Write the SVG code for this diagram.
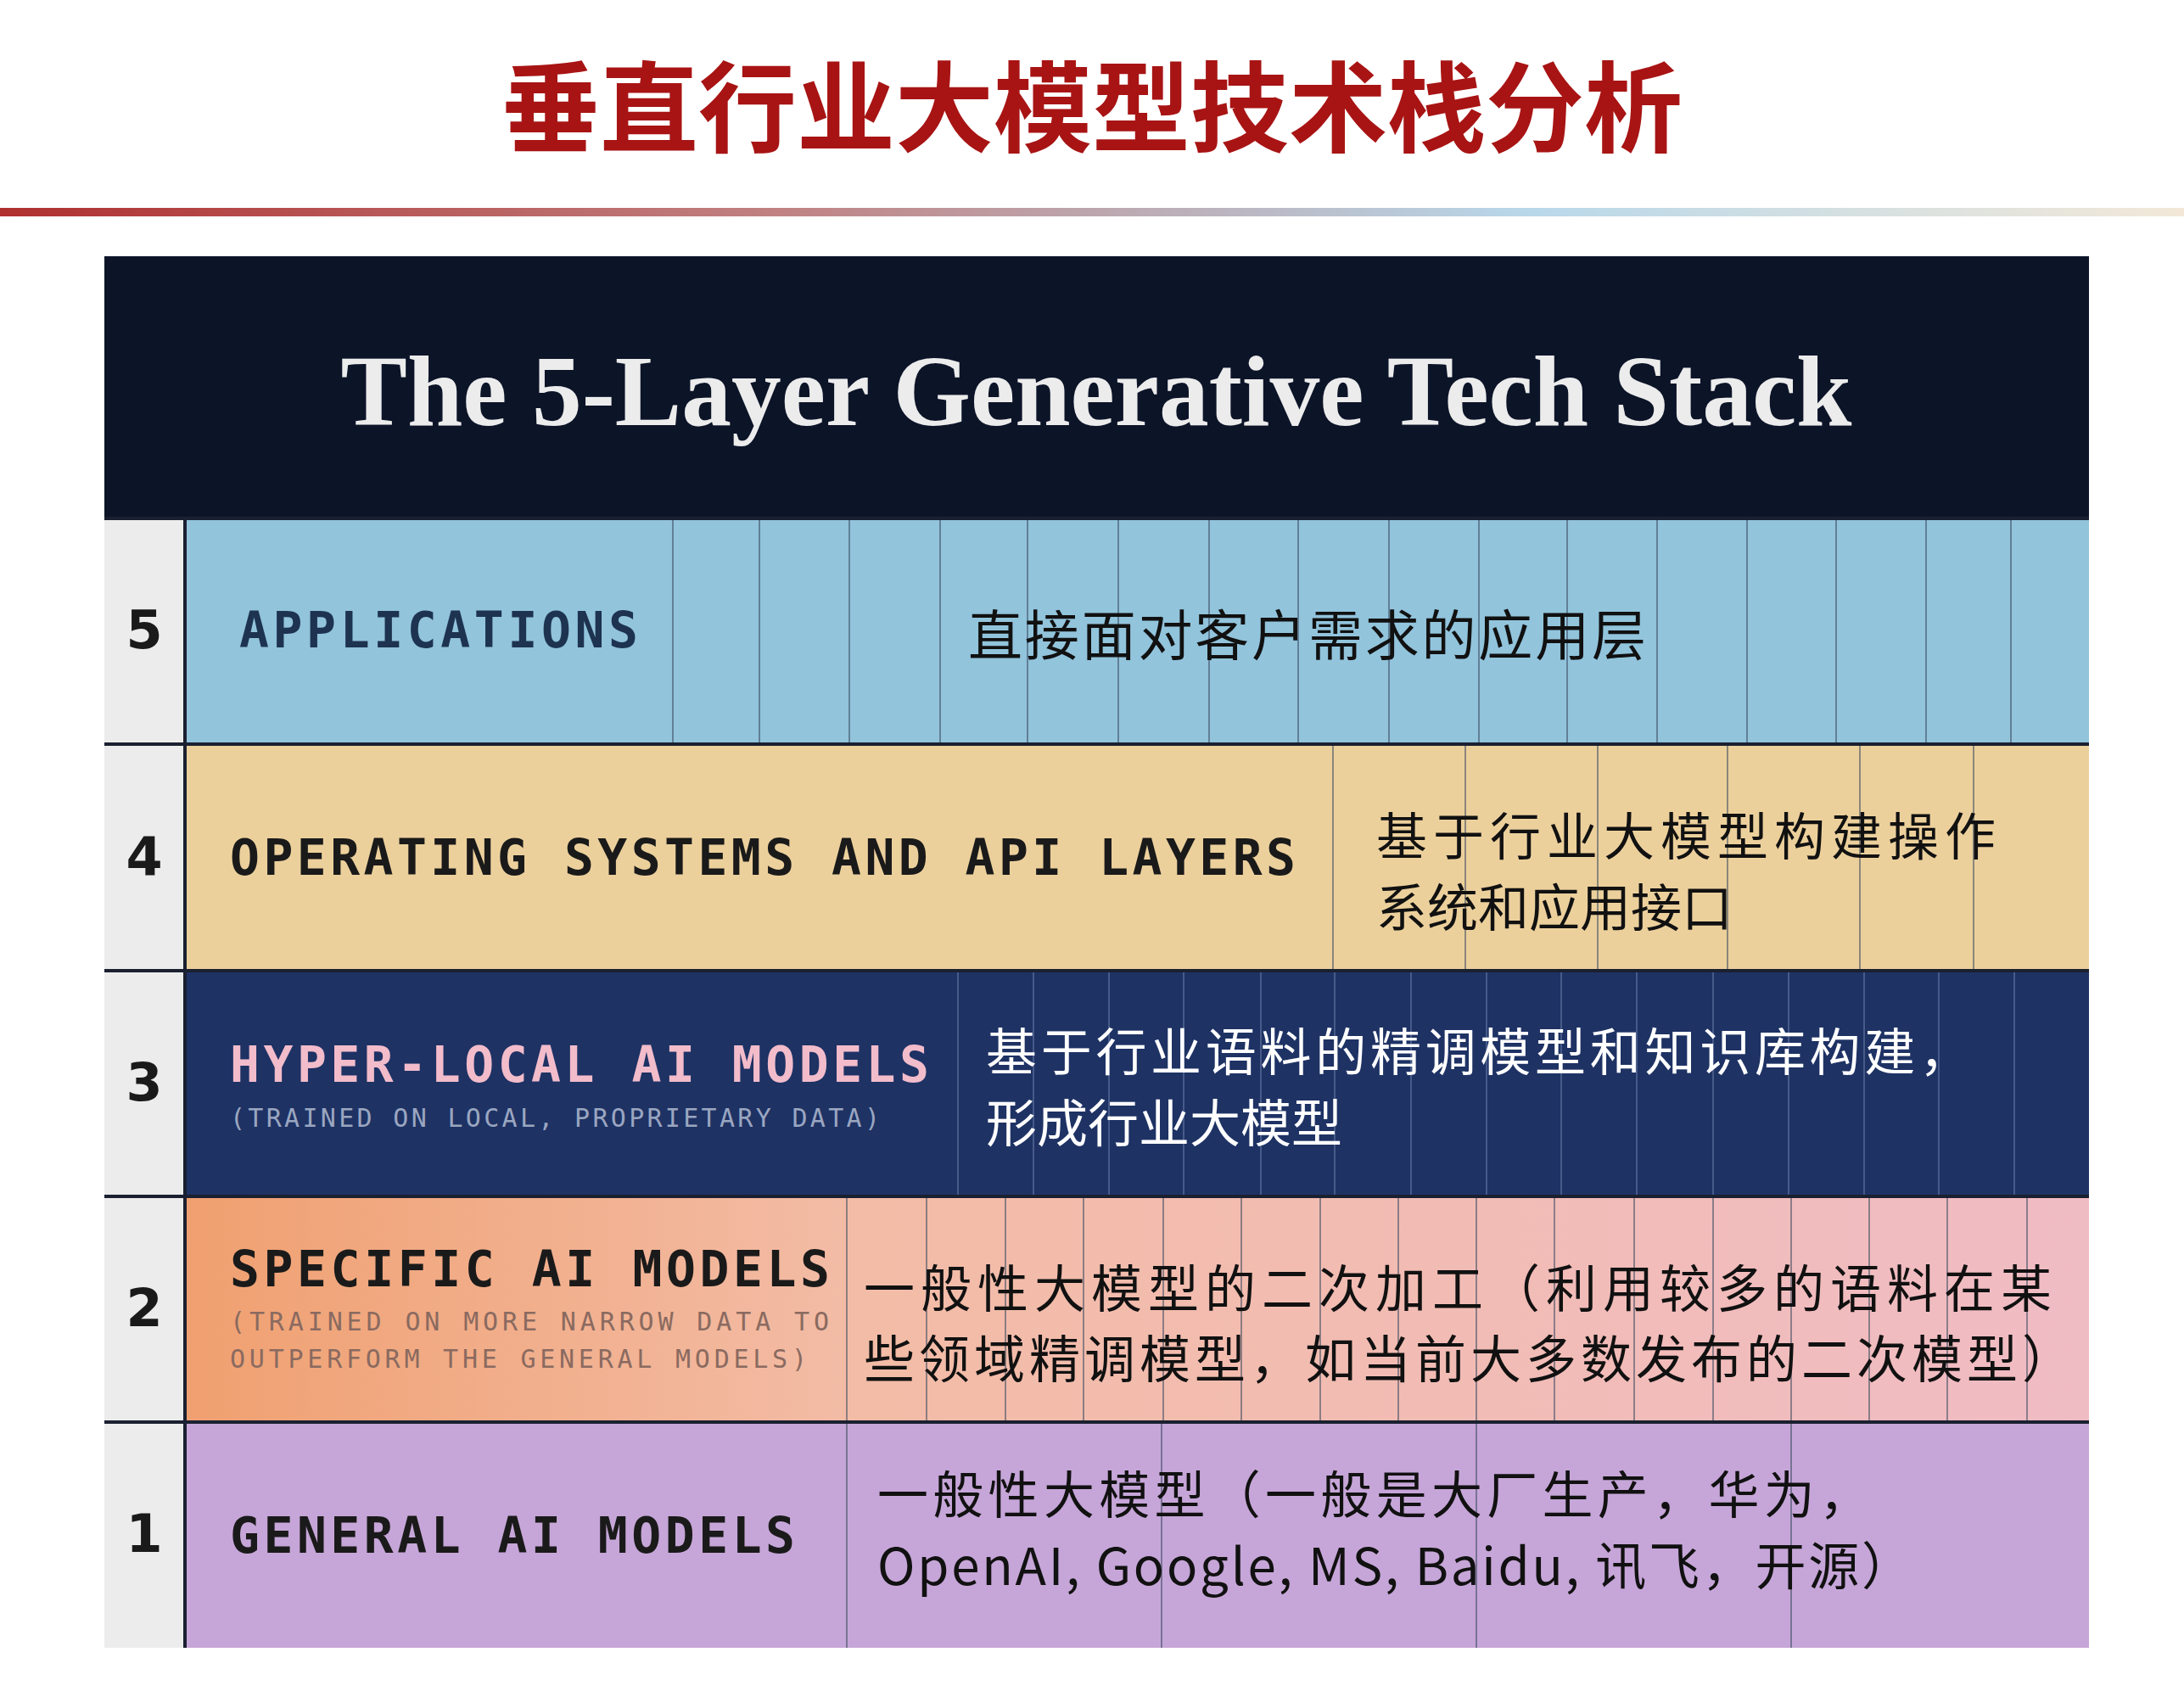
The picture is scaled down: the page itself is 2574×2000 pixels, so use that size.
<svg xmlns="http://www.w3.org/2000/svg" width="2574" height="2000" viewBox="0 0 2574 2000">
<defs>
<linearGradient id="rule" x1="0" x2="1" y1="0" y2="0"><stop offset="0" stop-color="#b03030"/><stop offset="0.35" stop-color="#c08080"/><stop offset="0.7" stop-color="#b8d8ea"/><stop offset="1" stop-color="#f3e8d8"/></linearGradient>
<linearGradient id="r2" x1="0" x2="1" y1="0" y2="0"><stop offset="0" stop-color="#f0a070"/><stop offset="0.35" stop-color="#f3bca6"/><stop offset="1" stop-color="#f0bcc4"/></linearGradient>
<style>
.num{font-family:"DejaVu Sans",sans-serif;font-weight:bold;font-size:62px;fill:#1a1a1a;text-anchor:middle}
.lab{font-family:"DejaVu Sans Mono","Liberation Mono",monospace;font-weight:bold;font-size:58px}
.sub{font-family:"DejaVu Sans Mono","Liberation Mono",monospace;font-size:30px}
.cn{font-family:"Noto Sans CJK SC",sans-serif;font-size:60px;fill:#111}
.vl{stroke:#3a4a60;stroke-width:2;opacity:.55}
.sep{stroke:#1a2030;stroke-width:4}
</style>
</defs>
<rect width="2574" height="2000" fill="#fff"/>
<text x="1287" y="170" text-anchor="middle" font-family="Noto Sans CJK SC,sans-serif" font-weight="bold" font-size="116" fill="#a81414">垂直行业大模型技术栈分析</text>
<rect x="0" y="245" width="2574" height="10" fill="url(#rule)"/>
<g id="header">
<rect x="123" y="302" width="2339" height="309" fill="#0c1428"/>
<text x="1292" y="501" text-anchor="middle" font-family="Liberation Serif,serif" font-weight="bold" font-size="118" fill="#ececec" textLength="1781" lengthAdjust="spacingAndGlyphs">The 5-Layer Generative Tech Stack</text>
</g>
<g id="numcol"><rect x="123" y="611" width="95" height="1331" fill="#ececec"/>
<text class="num" x="170" y="764">5</text><text class="num" x="170" y="1031">4</text><text class="num" x="170" y="1297">3</text><text class="num" x="170" y="1563">2</text><text class="num" x="170" y="1829">1</text></g>
<g id="layer5"><rect x="218" y="611" width="2244" height="266" fill="#92c4dc"/>
<g class="vl"><path d="M793 611V877M895 611V877M1001 611V877M1108 611V877M1211 611V877M1318 611V877M1425 611V877M1530 611V877M1637 611V877M1743 611V877M1847 611V877M1953 611V877M2059 611V877M2164 611V877M2270 611V877M2370 611V877"/></g>
<text class="lab" x="282" y="763" fill="#1d3350" textLength="470">APPLICATIONS</text>
<text class="cn" x="1141" y="772" style="font-size:64px" textLength="799">直接面对客户需求的应用层</text></g>
<g id="layer4"><rect x="218" y="877" width="2244" height="267" fill="#ecd09c"/>
<g class="vl"><path d="M1571 877V1144M1727 877V1144M1883 877V1144M2036 877V1144M2192 877V1144M2326 877V1144"/></g>
<text class="lab" x="271" y="1031" fill="#1a1a1a" textLength="1256">OPERATING SYSTEMS AND API LAYERS</text>
<text class="cn" x="1622" y="1008" textLength="730">基于行业大模型构建操作</text>
<text class="cn" x="1622" y="1092">系统和应用接口</text></g>
<g id="layer3"><rect x="218" y="1144" width="2244" height="266" fill="#1e3264"/>
<g class="vl" style="stroke:#6a7ea8"><path d="M1129 1144V1410M1218 1144V1410M1307 1144V1410M1395 1144V1410M1486 1144V1410M1573 1144V1410M1663 1144V1410M1752 1144V1410M1840 1144V1410M1929 1144V1410M2019 1144V1410M2108 1144V1410M2197 1144V1410M2285 1144V1410M2374 1144V1410"/></g>
<text class="lab" x="271" y="1275" fill="#f2bccb" textLength="824">HYPER-LOCAL AI MODELS</text>
<text class="sub" x="271" y="1328" fill="#9aa6c0" textLength="766">(TRAINED ON LOCAL, PROPRIETARY DATA)</text>
<text class="cn" x="1162" y="1262" style="fill:#fff" textLength="1160">基于行业语料的精调模型和知识库构建，</text>
<text class="cn" x="1162" y="1346" style="fill:#fff">形成行业大模型</text></g>
<g id="layer2"><rect x="218" y="1410" width="2244" height="266" fill="url(#r2)"/>
<g class="vl"><path d="M998 1410V1676M1092 1410V1676M1185 1410V1676M1277 1410V1676M1371 1410V1676M1463 1410V1676M1556 1410V1676M1648 1410V1676M1740 1410V1676M1832 1410V1676M1926 1410V1676M2019 1410V1676M2111 1410V1676M2203 1410V1676M2295 1410V1676M2389 1410V1676"/></g>
<text class="lab" x="271" y="1516" fill="#1a1a1a" textLength="707">SPECIFIC AI MODELS</text>
<text class="sub" x="271" y="1568" fill="#8a6a60" textLength="706">(TRAINED ON MORE NARROW DATA TO</text>
<text class="sub" x="271" y="1612" fill="#8a6a60" textLength="680">OUTPERFORM THE GENERAL MODELS)</text>
<text class="cn" x="1018" y="1541" textLength="1400">一般性大模型的二次加工（利用较多的语料在某</text>
<text class="cn" x="1018" y="1624" textLength="1425">些领域精调模型，如当前大多数发布的二次模型）</text></g>
<g id="layer1"><rect x="218" y="1676" width="2244" height="266" fill="#c6a6d8"/>
<g class="vl"><path d="M998 1676V1942M1369 1676V1942M1740 1676V1942M2111 1676V1942"/></g>
<text class="lab" x="271" y="1830" fill="#1a1a1a" textLength="666">GENERAL AI MODELS</text>
<text class="cn" x="1034" y="1784" textLength="1170">一般性大模型（一般是大厂生产，华为，</text>
<text class="cn" x="1034" y="1868" textLength="1220">OpenAI, Google, MS, Baidu, 讯飞，开源）</text></g>
<g id="connectors"><path class="sep" d="M123 611H2462M123 877H2462M123 1144H2462M123 1410H2462M123 1676H2462M218 611V1942"/></g>
</svg>
